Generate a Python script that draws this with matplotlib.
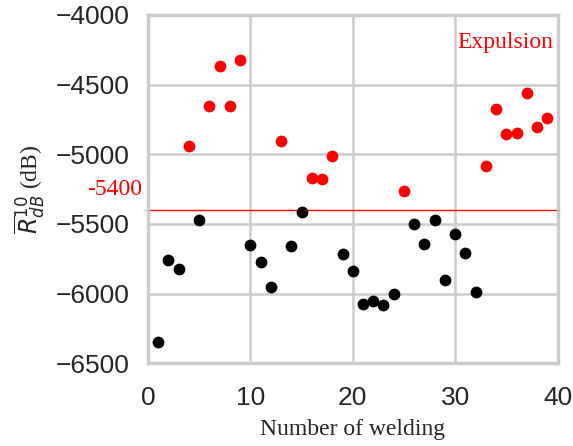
import matplotlib
matplotlib.use("Agg")
import matplotlib.pyplot as plt
import seaborn as sns

# welds without expulsion
ok_weld = [1, 2, 3, 5, 10, 11, 12, 14, 15, 19, 20, 21, 22, 23, 24,
           26, 27, 28, 29, 30, 31, 32]
ok_r = [-6345, -5760, -5820, -5470, -5650, -5775, -5950, -5655, -5415,
        -5715, -5835, -6075, -6055, -6085, -6000, -5500, -5645, -5470,
        -5905, -5575, -5705, -5990]

# welds with expulsion
exp_weld = [4, 6, 7, 8, 9, 13, 16, 17, 18, 25, 33, 34, 35, 36, 37, 38, 39]
exp_r = [-4940, -4650, -4365, -4650, -4325, -4905, -5170, -5180, -5015,
         -5265, -5085, -4675, -4855, -4845, -4560, -4805, -4740]

threshold = -5400
x_ticks = [0, 10, 20, 30, 40]
y_ticks = [-4000, -4500, -5000, -5500, -6000, -6500]

sns.set_style("whitegrid")
plt.rcParams["font.family"] = ["Liberation Sans", "DejaVu Sans"]

fig = plt.figure(figsize=(5.73, 4.46), dpi=100)
ax = fig.add_axes([0.2583, 0.1854, 0.7147, 0.7810])

ax.scatter(ok_weld, ok_r, s=72, color="black", linewidths=0, zorder=3)
ax.scatter(exp_weld, exp_r, s=72, color="red", linewidths=0, zorder=3)
ax.axhline(threshold, color="red", lw=1.0, zorder=2)

ax.text(-0.6, -5250, str(threshold), color="red", fontsize=17,
        family="Liberation Serif", ha="right", va="center", clip_on=False)
ax.text(39.6, -4200, "Expulsion", color="red", fontsize=17,
        family="Liberation Serif", ha="right", va="center")

ax.set_xlim(0, 40)
ax.set_ylim(-6500, -4000)
ax.set_xticks(x_ticks)
ax.set_yticks(y_ticks)
ax.tick_params(labelsize=19, colors="#262626")
ax.tick_params(axis="x", pad=13)
ax.tick_params(axis="y", pad=10)

ax.set_xlabel("Number of welding", fontsize=17, family="Liberation Serif",
              color="#262626", labelpad=6)
ax.set_ylabel(r"$\overline{R}_{dB}^{10}$ (dB)", fontsize=17,
              family="Liberation Serif", color="#262626", labelpad=6)

ax.grid(color="#cccccc", lw=1.8)
for sp in ax.spines.values():
    sp.set_color("#cccccc")
    sp.set_linewidth(2.5)

fig.savefig("out.png", dpi=100)
